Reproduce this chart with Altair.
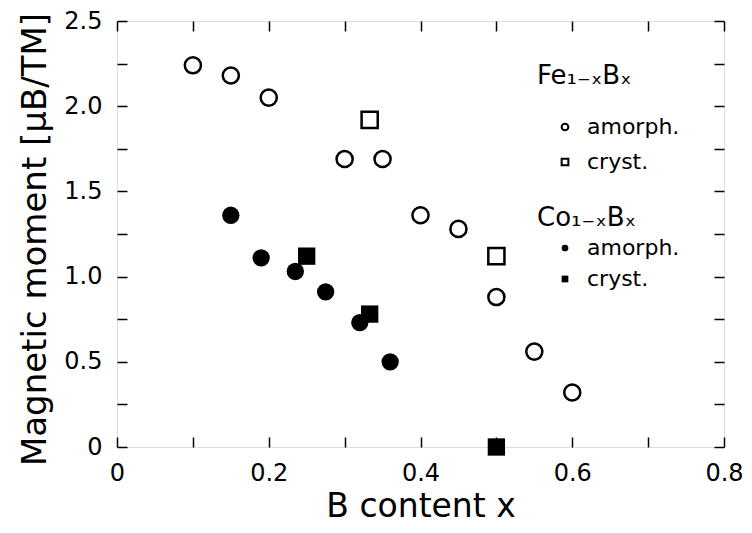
import altair as alt
import pandas as pd

# Fe(1-x)B(x)
fe_am_x = [0.10, 0.15, 0.20, 0.30, 0.35, 0.40, 0.45, 0.50, 0.55, 0.60]
fe_am_y = [2.24, 2.18, 2.05, 1.69, 1.69, 1.36, 1.28, 0.88, 0.56, 0.32]
fe_cr_x = [0.333, 0.50]
fe_cr_y = [1.92, 1.12]
# Co(1-x)B(x)
co_am_x = [0.15, 0.19, 0.235, 0.275, 0.32, 0.36]
co_am_y = [1.36, 1.11, 1.03, 0.91, 0.73, 0.50]
co_cr_x = [0.25, 0.333, 0.50]
co_cr_y = [1.12, 0.78, 0.0]

phases = ["amorph.", "cryst."]
x_ticks = [0, 0.1, 0.2, 0.3, 0.4, 0.5, 0.6, 0.7, 0.8]
y_ticks = [0, 0.25, 0.5, 0.75, 1.0, 1.25, 1.5, 1.75, 2.0, 2.25, 2.5]

df_fe = pd.DataFrame({
    "x": fe_am_x + fe_cr_x,
    "y": fe_am_y + fe_cr_y,
    "phase": [phases[0]] * len(fe_am_x) + [phases[1]] * len(fe_cr_x),
})
df_co = pd.DataFrame({
    "x": co_am_x + co_cr_x,
    "y": co_am_y + co_cr_y,
    "phase": [phases[0]] * len(co_am_x) + [phases[1]] * len(co_cr_x),
})

FONT = "DejaVu Sans"
xscale = alt.Scale(domain=[0, 0.8], nice=False, zero=False)
yscale = alt.Scale(domain=[0, 2.5], nice=False, zero=False)
shape_scale = alt.Scale(domain=phases, range=["circle", "square"])

common_axis = dict(domain=False, grid=False, ticks=True, tickSize={"expr": "-10"}, tickWidth=1.5,
                   tickColor="black", labelColor="black", titleColor="black",
                   labelFont=FONT, titleFont=FONT, labelOverlap=False, labelFlush=False)

x_bottom = alt.Axis(orient="bottom", values=x_ticks, title="B content x",
                    labelExpr="round(datum.value*10) % 2 == 0 ? (datum.value == 0 ? '0' : format(datum.value, '.1f')) : ''",
                    labelFontSize=24, labelPadding=24, titleFontSize=33, titleFontWeight="normal",
                    titlePadding=5, **common_axis)
y_left = alt.Axis(orient="left", values=y_ticks, title="Magnetic moment [μB/TM]",
                  labelExpr="round(datum.value*4) % 2 == 0 ? (datum.value == 0 ? '0' : format(datum.value, '.1f')) : ''",
                  labelFontSize=24, labelPadding=25, titleFontSize=34, titleFontWeight="normal",
                  titlePadding=11, titleY=218, **common_axis)
x_top = alt.Axis(orient="top", values=x_ticks, title=None, labels=False, **common_axis)
y_right = alt.Axis(orient="right", values=y_ticks, title=None, labels=False, **common_axis)

leg_common = dict(orient="none", padding=0, titleFont=FONT, labelFont=FONT,
                  titleFontSize=26, titleFontWeight="normal", labelFontSize=22,
                  titleColor="black", labelColor="black", symbolSize=45,
                  symbolStrokeWidth=2, symbolOffset=17, labelOffset=11)

fe = alt.Chart(df_fe).mark_point(filled=False, size=260, strokeWidth=2.5, color="black", opacity=1).encode(
    x=alt.X("x:Q", scale=xscale, axis=x_bottom),
    y=alt.Y("y:Q", scale=yscale, axis=y_left),
    shape=alt.Shape("phase:N", scale=shape_scale,
                    legend=alt.Legend(title="Fe₁₋ₓBₓ", legendX=420, legendY=42,
                                      titlePadding=27, rowPadding=13,
                                      symbolFillColor="white", symbolStrokeColor="black", **leg_common)),
)

co = alt.Chart(df_co).mark_point(filled=True, size=300, color="black", opacity=1).encode(
    x=alt.X("x:Q", scale=xscale, axis=x_top),
    y=alt.Y("y:Q", scale=yscale, axis=y_right),
    shape=alt.Shape("phase:N", scale=shape_scale,
                    legend=alt.Legend(title="Co₁₋ₓBₓ", legendX=420, legendY=184,
                                      titlePadding=6, rowPadding=9,
                                      symbolFillColor="black", symbolStrokeColor="black", **leg_common)),
)

chart = alt.layer(fe, co).resolve_scale(shape="independent").resolve_axis(
    x="independent", y="independent"
).properties(
    width=607, height=426,
    autosize=alt.AutoSizeParams(type="none"),
    padding={"left": 109, "top": 13, "right": 20, "bottom": 78},
).configure_view(stroke="black", strokeWidth=2).configure(background="white")

chart.save("out.html", embed_options={"renderer": "svg", "actions": False})
